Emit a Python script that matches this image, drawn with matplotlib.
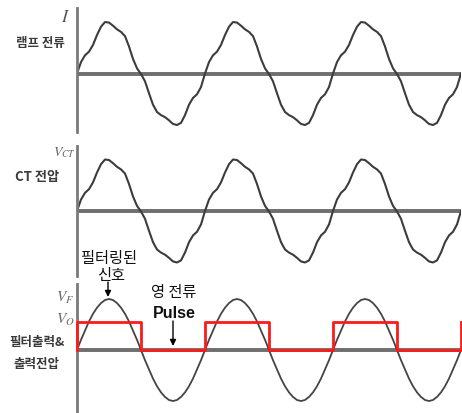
import numpy as np
import matplotlib.pyplot as plt

plt.rcParams['font.family'] = ['Noto Sans CJK KR', 'DejaVu Sans']
plt.rcParams['mathtext.fontset'] = 'stix'

# eine Periode der verzerrten Lampenstrom-Kurve (32 Schritte)
lamp_wave = [0.0, 0.22, 0.35, 0.42, 0.55, 0.74, 0.9, 0.99, 0.98, 0.92, 0.85,
             0.8, 0.72, 0.52, 0.28, 0.1, -0.01, -0.15, -0.38, -0.6, -0.74,
             -0.8, -0.84, -0.9, -0.97, -0.99, -0.95, -0.8, -0.6, -0.47, -0.4,
             -0.26, 0.0]
# gefiltertes Signal, eine Periode
filt_wave = [0.0, 0.2, 0.38, 0.56, 0.71, 0.83, 0.92, 0.98, 1.0, 0.98, 0.92,
             0.83, 0.71, 0.56, 0.38, 0.2, 0.0, -0.2, -0.38, -0.56, -0.71,
             -0.83, -0.92, -0.98, -1.0, -0.98, -0.92, -0.83, -0.71, -0.56,
             -0.38, -0.2, 0.0]
n_periods = 3
# Nullstrom-Puls (Flanken in Perioden, Pegel)
pulse_x = [0, 0, 0.5, 1, 1.5, 2, 2.5, 3]
pulse_on = [0, 1, 0, 1, 0, 1, 0, 1]
pulse_level = 0.55


def tile(cycle, n):
    y = list(cycle[:-1]) * n + [cycle[-1]]
    x = np.arange(len(y)) / (len(cycle) - 1)
    return x, y


W, H = 462, 414
fig = plt.figure(figsize=(W / 100, H / 100), dpi=100)


def make_ax(top, bottom, ylim):
    ax = fig.add_axes([77 / W, 1 - bottom / H, (461 - 77) / W, (bottom - top) / H])
    ax.set_xlim(0, n_periods)
    ax.set_ylim(*ylim)
    for s in ['top', 'right', 'bottom']:
        ax.spines[s].set_visible(False)
    ax.spines['left'].set_color('#7a7a7a')
    ax.spines['left'].set_linewidth(2)
    ax.set_xticks([])
    ax.set_yticks([])
    ax.patch.set_alpha(0)
    ax.axhline(0, color='#6e6e6e', lw=2.8, zorder=1)
    return ax


ax1 = make_ax(9, 133, (-1.125, 1.26))
ax2 = make_ax(147, 277, (-1.25, 1.25))
ax3 = make_ax(285, 414, (-1.235, 1.294))

x, y = tile(lamp_wave, n_periods)
for ax in (ax1, ax2):
    ax.plot(x, y, color='#3c3c3c', lw=1.5, zorder=2,
            solid_joinstyle='round', solid_capstyle='round')

x, y = tile(filt_wave, n_periods)
ax3.plot(x, y, color='#444444', lw=1.3, zorder=2, solid_joinstyle='round')
ax3.plot(pulse_x, np.array(pulse_on) * pulse_level, color='#ff1a1a', lw=2,
         drawstyle='steps-post', zorder=3, clip_on=False)


def label(px, py, s, **kw):
    fig.text(px / W, 1 - py / H, s, ha='center', va='center', **kw)


grau = '#3a3a3a'
label(66, 17, r'$I$', fontsize=13, color='#555555')
label(40, 43, '램프 전류', fontsize=9, fontweight='bold', color=grau)
label(65, 153, r'$V_{CT}$', fontsize=10, color='#666666')
label(37, 177, 'CT 전압', fontsize=9.5, fontweight='bold', color=grau)
label(109, 258, '필터링된', fontsize=11, color='#111111')
label(111, 276, '신호', fontsize=11, color='#111111')
label(65, 297, r'$V_F$', fontsize=11, color='#666666')
label(65, 319, r'$V_O$', fontsize=11, color='#666666')
label(174, 293, '영 전류', fontsize=11, color='#111111')
label(174, 313, 'Pulse', fontsize=11.5, fontweight='bold', color='#111111',
      family=['Liberation Sans', 'DejaVu Sans'])
label(37, 343, '필터출력&', fontsize=9, fontweight='bold', color=grau)
label(37, 365, '출력전압', fontsize=9, fontweight='bold', color=grau)

# Pfeile
for xa, y0, y1 in [(108, 283, 298), (173, 322, 347)]:
    ax3.annotate('', xy=(xa, H - y1), xytext=(xa, H - y0),
                 xycoords='figure pixels', textcoords='figure pixels',
                 arrowprops=dict(arrowstyle='-|>', color='black', lw=1,
                                 mutation_scale=9, shrinkA=0, shrinkB=0))

fig.savefig('out.png', dpi=100)
